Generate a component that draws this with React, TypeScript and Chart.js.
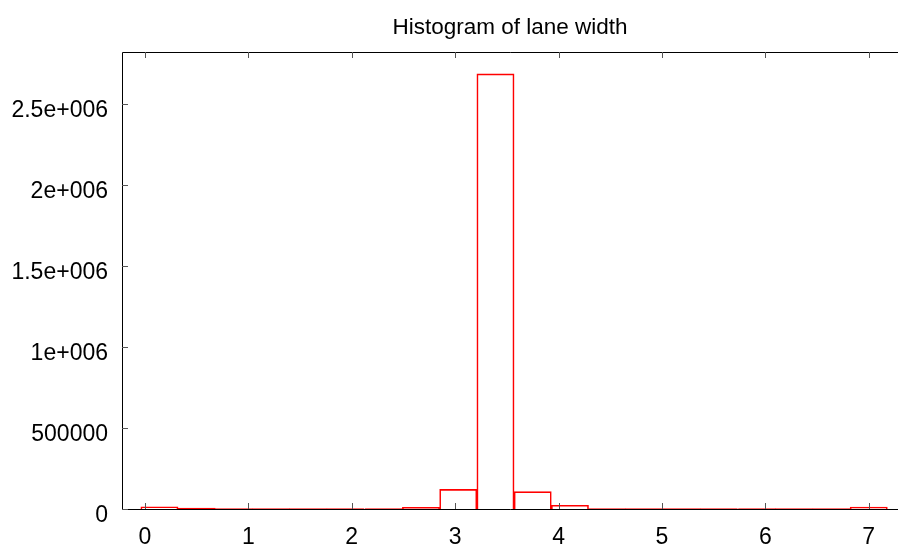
import React, { useEffect, useRef } from "react";
import { Chart, registerables } from "chart.js";

Chart.register(...registerables);

const TITLE = "Histogram of lane width";
const binCenters = [0.14, 0.50, 0.86, 1.22, 1.58, 1.94, 2.31, 2.67, 3.03, 3.39, 3.75, 4.11, 4.47, 4.83, 5.19, 5.55, 5.92, 6.28, 6.64, 7.00];
const counts = [14000, 5000, 3000, 3000, 3000, 3000, 3000, 11000, 121000, 2685000, 107000, 23000, 2000, 2000, 2000, 2000, 2000, 2000, 2000, 12000];
const xTickValues = [0, 1, 2, 3, 4, 5, 6, 7];
const xTickLabels = ["0", "1", "2", "3", "4", "5", "6", "7"];
const yTickValues = [0, 500000, 1000000, 1500000, 2000000, 2500000];
const yTickLabels = ["0", "500000", "1e+006", "1.5e+006", "2e+006", "2.5e+006"];

const FONT = "'Liberation Sans', Arial, sans-serif";

const framePlugin = {
  id: "frame",
  afterDraw(chart: any) {
    const { ctx, chartArea } = chart;
    const { left, right, top, bottom } = chartArea;
    const xs = chart.scales.x;
    const ys = chart.scales.y;
    ctx.save();
    ctx.strokeStyle = "#000";
    ctx.lineWidth = 1;
    ctx.beginPath();
    ctx.moveTo(left + 0.5, top + 0.5);
    ctx.lineTo(right, top + 0.5);
    ctx.moveTo(left + 0.5, top + 0.5);
    ctx.lineTo(left + 0.5, bottom + 0.5);
    ctx.lineTo(right, bottom + 0.5);
    ctx.stroke();
    ctx.strokeStyle = "#555";
    ctx.beginPath();
    xs.ticks.forEach((t: any) => {
      const px = Math.round(xs.getPixelForValue(t.value)) + 0.5;
      ctx.moveTo(px, bottom);
      ctx.lineTo(px, bottom - 6);
      ctx.moveTo(px, top);
      ctx.lineTo(px, top + 6);
    });
    ys.ticks.forEach((t: any) => {
      const py = Math.round(ys.getPixelForValue(t.value)) + 0.5;
      ctx.moveTo(left, py);
      ctx.lineTo(left + 6, py);
    });
    ctx.stroke();
    ctx.restore();
  },
};

export default function App() {
  const ref = useRef<HTMLCanvasElement | null>(null);
  useEffect(() => {
    if (!ref.current) return;
    const chart = new Chart(ref.current, {
      type: "bar",
      data: {
        datasets: [
          {
            data: binCenters.map((x, i) => ({ x, y: counts[i] })),
            backgroundColor: "rgba(0,0,0,0)",
            borderColor: "#ff0000",
            borderWidth: 1,
            barPercentage: 1,
            categoryPercentage: 1,
          },
        ],
      },
      options: {
        animation: false,
        responsive: false,
        maintainAspectRatio: false,
        layout: { padding: 0 },
        plugins: {
          legend: { display: false },
          tooltip: { enabled: false },
          title: {
            display: true,
            text: TITLE,
            fullSize: false,
            color: "#000",
            font: { family: FONT, size: 22.5, weight: "normal" },
            padding: { top: 14, bottom: 11 },
          },
        },
        scales: {
          x: {
            type: "linear",
            min: -0.222,
            max: 7.283,
            offset: false,
            grid: { display: false, drawTicks: false },
            border: { display: false },
            afterBuildTicks: (s: any) => {
              s.ticks = xTickValues.map((v) => ({ value: v }));
            },
            ticks: {
              color: "#000",
              font: { family: FONT, size: 23 },
              padding: 15,
              maxRotation: 0,
              autoSkip: false,
              callback: (v: any) => xTickLabels[xTickValues.indexOf(Number(v))] ?? "",
            },
            afterFit: (s: any) => {
              s.height = 41;
            },
          },
          y: {
            type: "linear",
            min: 0,
            max: 2820000,
            grid: { display: false, drawTicks: false },
            border: { display: false },
            afterBuildTicks: (s: any) => {
              s.ticks = yTickValues.map((v) => ({ value: v }));
            },
            ticks: {
              color: "#000",
              font: { family: FONT, size: 23 },
              padding: 14,
              labelOffset: 7,
              autoSkip: false,
              callback: (v: any) => yTickLabels[yTickValues.indexOf(Number(v))] ?? "",
            },
            afterFit: (s: any) => {
              s.width = 122;
            },
          },
        },
      },
      plugins: [framePlugin],
    });
    return () => chart.destroy();
  }, []);
  return (
    <div style={{ position: "fixed", left: 0, top: 0, width: 898, height: 550, background: "#fff" }}>
      <canvas ref={ref} width={898} height={550} style={{ width: 898, height: 550, display: "block" }} />
    </div>
  );
}
